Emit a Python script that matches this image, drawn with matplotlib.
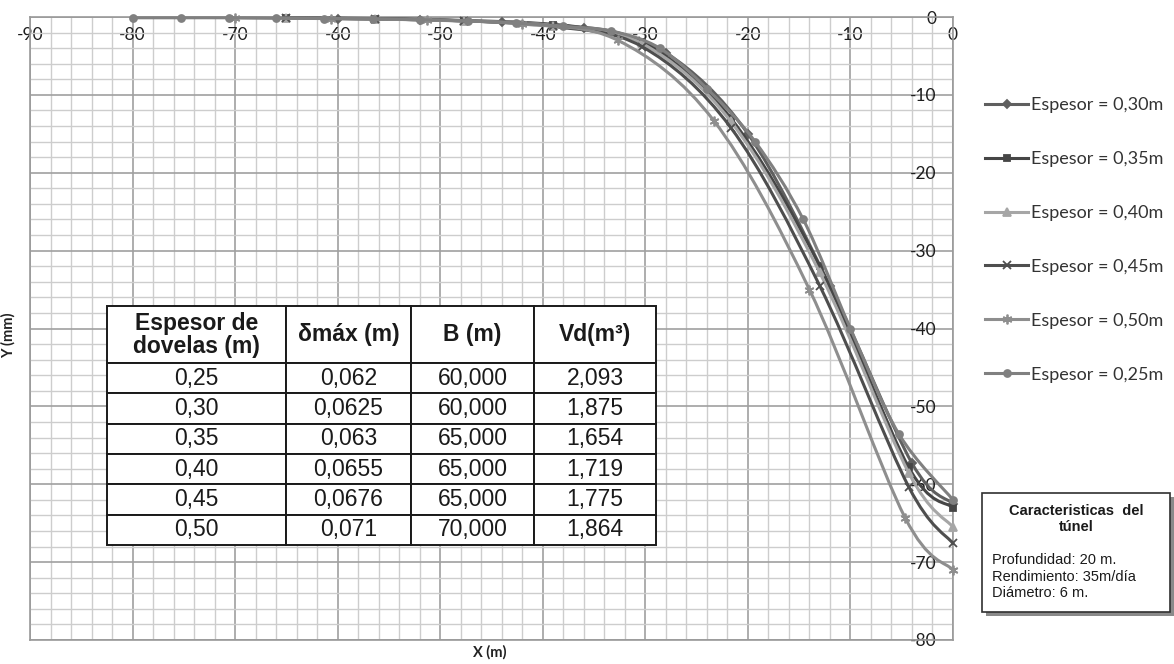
import numpy as np
import matplotlib
matplotlib.use("Agg")
import matplotlib.pyplot as plt
from matplotlib.path import Path
from matplotlib.patches import PathPatch, Rectangle
from matplotlib.lines import Line2D
from matplotlib.font_manager import FontProperties

# ---------------- data ----------------
x_030 = [-60, -52, -44, -36, -28, -20, -12, -4, 0]
y_030 = [-0.2, -0.35, -0.7, -1.4, -4.6, -15.0, -34.5, -57.3, -62.5]

x_035 = [-65, -56.33, -47.67, -39, -30.33, -21.67, -13, -4.33, 0]
y_035 = [-0.1, -0.2, -0.45, -1.0, -3.2, -13.0, -32.0, -57.8, -63.0]

x_040 = [-65, -56.33, -47.67, -39, -30.33, -21.67, -13, -4.33, 0]
y_040 = [-0.1, -0.25, -0.5, -1.1, -3.4, -13.4, -32.8, -58.5, -65.5]

x_045 = [-65, -56.33, -47.67, -39, -30.33, -21.67, -13, -4.33, 0]
y_045 = [-0.1, -0.25, -0.5, -1.2, -3.8, -14.2, -34.5, -60.3, -67.6]

x_050 = [-70, -60.67, -51.33, -42, -32.67, -23.33, -14, -4.67, 0]
y_050 = [-0.1, -0.2, -0.4, -0.9, -3.0, -13.3, -35.0, -64.3, -71.0]

x_025 = [-80, -75.3, -70.6, -66, -61.3, -56.6, -52, -47.3, -42.6, -38,
         -33.3, -28.6, -24, -19.3, -14.6, -10, -5.3, 0]
y_025 = [-0.1, -0.1, -0.1, -0.15, -0.2, -0.25, -0.35, -0.5, -0.8, -1.2,
         -1.8, -4.0, -9.2, -16.0, -26.0, -40.0, -53.5, -62.0]

series_labels = ["Espesor = 0,30m", "Espesor = 0,35m", "Espesor = 0,40m",
                 "Espesor = 0,45m", "Espesor = 0,50m", "Espesor = 0,25m"]

x_ticks = [-90, -80, -70, -60, -50, -40, -30, -20, -10, 0]
y_ticks = [0, -10, -20, -30, -40, -50, -60, -70, -80]

table_header = ["Espesor de\ndovelas (m)", "δmáx (m)", "B (m)", "Vd(m³)"]
table_espesor = ["0,25", "0,30", "0,35", "0,40", "0,45", "0,50"]
table_dmax = ["0,062", "0,0625", "0,063", "0,0655", "0,0676", "0,071"]
table_B = ["60,000", "60,000", "65,000", "65,000", "65,000", "70,000"]
table_Vd = ["2,093", "1,875", "1,654", "1,719", "1,775", "1,864"]

info_title = ["Caracteristicas  del", "túnel"]
info_lines = ["Profundidad: 20 m.", "Rendimiento: 35m/día", "Diámetro: 6 m."]

# ---------------- styles ----------------
styles = [
    dict(color="#5f5f5f", marker="D", ms=4.0),
    dict(color="#464646", marker="s", ms=5.0),
    dict(color="#a6a6a6", marker="^", ms=5.5),
    dict(color="#4e4e4e", marker="x", ms=5.5),
    dict(color="#8e8e8e", marker=(6, 2, 0), ms=7.0),
    dict(color="#808080", marker="o", ms=5.0),
]
xs_all = [x_030, x_035, x_040, x_045, x_050, x_025]
ys_all = [y_030, y_035, y_040, y_045, y_050, y_025]

W, H = 1174, 664
fig = plt.figure(figsize=(W / 100, H / 100), dpi=100)
fig.patch.set_facecolor("white")

ax_l, ax_r, ax_t, ax_b = 30, 953, 17, 640
ax = fig.add_axes([ax_l / W, 1 - ax_b / H, (ax_r - ax_l) / W, (ax_b - ax_t) / H])
ax.set_xlim(-90, 0)
ax.set_ylim(-80, 0)

ax.set_xticks(x_ticks)
ax.set_yticks(y_ticks)
ax.set_xticks(np.arange(-90, 1, 2), minor=True)
ax.set_yticks(np.arange(-80, 1, 2), minor=True)
ax.grid(which="minor", color="#cdcdcd", lw=1.0, zorder=0)
ax.grid(which="major", color="#a0a0a0", lw=1.2, zorder=0)
ax.set_axisbelow(True)
for s in ax.spines.values():
    s.set_color("#999999")
    s.set_linewidth(1.2)

ax.tick_params(axis="both", which="both", length=0)
ax.xaxis.set_ticks_position("top")
ax.tick_params(axis="x", labeltop=True, labelbottom=False, pad=-19,
               labelsize=12.5, labelcolor="#1e1e1e")
ax.yaxis.set_ticks_position("right")
ax.tick_params(axis="y", labelright=True, labelleft=False, pad=-12,
               labelsize=12.5, labelcolor="#1e1e1e")
ax.set_xticklabels([str(v) for v in x_ticks], family="Lato")
ax.set_yticklabels([str(v) for v in y_ticks], family="Lato")
for t in ax.yaxis.get_major_ticks():
    t.label2.set_horizontalalignment("right")


def smooth_path(xs, ys):
    P = np.column_stack([xs, ys]).astype(float)
    n = len(P)
    verts = [P[0]]
    codes = [Path.MOVETO]
    for i in range(n - 1):
        p0 = P[i - 1] if i > 0 else P[i]
        p1 = P[i]
        p2 = P[i + 1]
        p3 = P[i + 2] if i + 2 < n else P[i + 1]
        c1 = p1 + (p2 - p0) / 6.0
        c2 = p2 - (p3 - p1) / 6.0
        verts += [c1, c2, p2]
        codes += [Path.CURVE4] * 3
    return Path(verts, codes)


handles = []
for k, (xs, ys, st) in enumerate(zip(xs_all, ys_all, styles)):
    patch = PathPatch(smooth_path(xs, ys), facecolor="none", edgecolor=st["color"],
                      lw=2.2, zorder=3 + k, clip_on=False, capstyle="round",
                      joinstyle="round")
    ax.add_patch(patch)
    ax.plot(xs, ys, linestyle="none", marker=st["marker"], ms=st["ms"],
            color=st["color"], mec=st["color"], mew=1.3, zorder=3.5 + k,
            clip_on=False)
    handles.append(Line2D([], [], color=st["color"], lw=2.2, marker=st["marker"],
                          ms=st["ms"], mew=1.3))

leg = fig.legend(handles, series_labels, loc="upper left",
                 bbox_to_anchor=(985 / W, 1 - 97 / H), frameon=False,
                 prop=dict(family="Lato", size=13), labelspacing=2.1,
                 handlelength=2.4, handletextpad=0.15, borderpad=0,
                 borderaxespad=0, numpoints=1)
for t in leg.get_texts():
    t.set_color("#333333")

# axis titles
fig.text(8 / W, 1 - 335 / H, "Y (mm)", rotation=90, ha="center", va="center",
         family="Lato", weight="bold", size=10.5, color="#222222")
fig.text(490 / W, 1 - 652 / H, "X (m)", ha="center", va="center",
         family="Lato", weight="bold", size=10.5, color="#222222")

# ---------------- table ----------------
cell_rows = [list(r) for r in zip(table_espesor, table_dmax, table_B, table_Vd)]
tb_l, tb_r, tb_t, tb_b = 107, 656, 306, 545
bbox = [(tb_l - ax_l) / (ax_r - ax_l), 1 - (tb_b - ax_t) / (ax_b - ax_t),
        (tb_r - tb_l) / (ax_r - ax_l), (tb_b - tb_t) / (ax_b - ax_t)]
col_w = [179, 125, 123, 122]
tbl = ax.table(cellText=cell_rows, colLabels=table_header, cellLoc="center",
               colWidths=[c / sum(col_w) for c in col_w], bbox=bbox, zorder=20)
tbl.auto_set_font_size(False)
for (r, c), cell in tbl.get_celld().items():
    cell.set_edgecolor("#1a1a1a")
    cell.set_linewidth(1.4)
    cell.set_facecolor("white")
    cell.set_height(57 if r == 0 else 30.3)
    txt = cell.get_text()
    if r == 0:
        txt.set_fontproperties(FontProperties(family="Liberation Sans",
                                              weight="bold", size=16.5))
        txt.set_linespacing(1.0)
    else:
        txt.set_fontproperties(FontProperties(family="Liberation Sans", size=16.5))
    txt.set_color("#1a1a1a")

# ---------------- info box ----------------
bx_l, bx_r, bx_t, bx_b = 982, 1170, 493, 612
fig.add_artist(Rectangle(((bx_l + 4) / W, 1 - (bx_b + 4) / H), (bx_r - bx_l) / W,
                         (bx_b - bx_t) / H, transform=fig.transFigure,
                         facecolor="#8a8a8a", edgecolor="none", zorder=1))
fig.add_artist(Rectangle((bx_l / W, 1 - bx_b / H), (bx_r - bx_l) / W,
                         (bx_b - bx_t) / H, transform=fig.transFigure,
                         facecolor="white", edgecolor="#303030", lw=1.2, zorder=2))
cx = (bx_l + bx_r) / 2
for txt, yy in zip(info_title, [511, 527]):
    fig.text(cx / W, 1 - yy / H, txt, ha="center", va="center",
             family="Liberation Sans", weight="bold", size=10.5, color="#1a1a1a",
             zorder=3)
for txt, yy in zip(info_lines, [560, 577, 593]):
    fig.text(992 / W, 1 - yy / H, txt, ha="left", va="center",
             family="Liberation Sans", size=10.5, color="#1a1a1a", zorder=3)

fig.savefig("out.png", dpi=100, facecolor="white")
